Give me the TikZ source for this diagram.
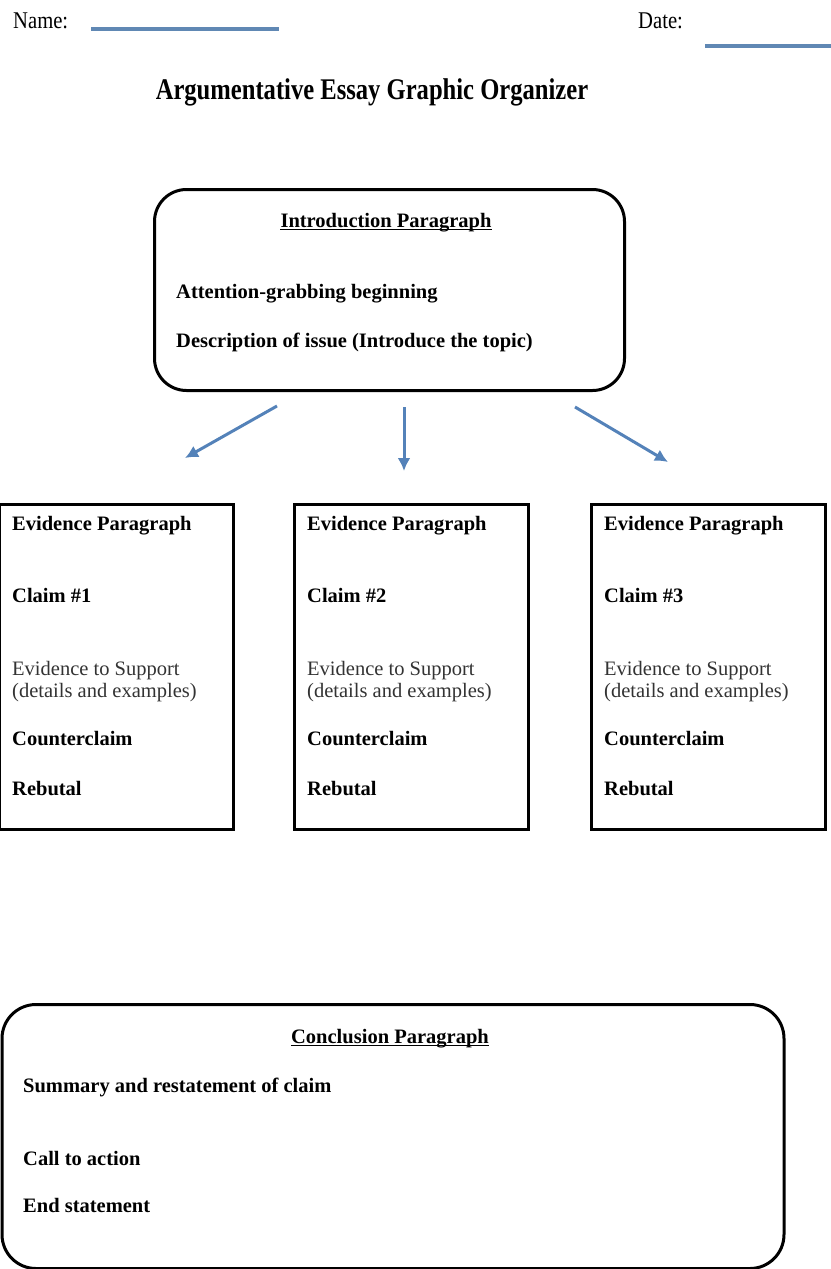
\documentclass[tikz,border=0pt]{standalone}
\usepackage{fontspec}
\setmainfont{Liberation Serif}
\newfontfamily\headfont[FakeStretch=0.86]{Liberation Serif}
\newfontfamily\titlefont[FakeStretch=0.82]{Liberation Serif}
\usetikzlibrary{arrows.meta,calc}
\definecolor{lineblue}{RGB}{96,136,180}
\definecolor{arrowblue}{RGB}{84,130,185}

\begin{document}
\begin{tikzpicture}[x=1pt,y=1pt,yscale=-1,xscale=1,
  txt/.style={anchor=base west,inner sep=0pt,font=\fontsize{20.5}{24}\selectfont\bfseries},
  plaintxt/.style={anchor=base west,inner sep=0pt,font=\fontsize{20.5}{24}\selectfont,text=black!80},
  headtxt/.style={anchor=base,inner sep=0pt,font=\fontsize{20.5}{24}\selectfont\bfseries},
  roundbox/.style={draw,line width=3,rounded corners=32,anchor=north west,inner sep=0pt},
  evbox/.style={draw,line width=3,anchor=north west,inner sep=0pt,minimum width=234,minimum height=325},
  bluearrow/.style={draw=arrowblue,line width=3,-{Latex[length=13,width=13]}},
  blank/.style={draw=lineblue,line width=4.5}]
\useasboundingbox (0,0) rectangle (830,1269);

%Header
\node[anchor=base west,inner sep=0pt,font=\fontsize{24}{28}\headfont] (name) at (13,28) {Name:};
\node[anchor=base west,inner sep=0pt,font=\fontsize{24}{28}\headfont] (date) at (638,28) {Date:};
\coordinate (name1) at (91,29);
\coordinate (name2) at (279,29);
\coordinate (date1) at (705,46);
\coordinate (date2) at (832,46);
\draw[blank] (name1) -- (name2);
\draw[blank] (date1) -- (date2);
\node[anchor=base,inner sep=0pt,font=\fontsize{30}{34}\titlefont\bfseries] (title) at (372,99) {Argumentative Essay Graphic Organizer};

%Shape: Introduction box
\node[roundbox,minimum width=470,minimum height=201] (intro) at (153,188) {};
% Text Node
\node[headtxt] (introhead) at (386,227) {Introduction Paragraph};
\draw[line width=1.2] ($(introhead.base west)+(0,2.5)$) -- ($(introhead.base east)+(0,2.5)$);
\node[txt] (attention) at (176,298) {Attention-grabbing beginning};
\node[txt] (issue) at (176,347) {Description of issue (Introduce the topic)};

%Arrows
\coordinate (a1s) at (277,406);
\coordinate (a1e) at (185,458);
\coordinate (a2s) at (404,407);
\coordinate (a2e) at (404,471);
\coordinate (a3s) at (575,407);
\coordinate (a3e) at (668,462);
\draw[bluearrow] (a1s) -- (a1e);
\draw[bluearrow] (a2s) -- (a2e);
\draw[bluearrow] (a3s) -- (a3e);

%Shape: Evidence boxes
\foreach \i/\x in {1/-2,2/293,3/590}{
  \node[evbox] (ev\i) at (\x,503) {};
  \node[txt] (evhead\i) at (\x+14,530) {Evidence Paragraph};
  \node[txt] (claim\i) at (\x+14,602) {Claim \#\i};
  \node[plaintxt] (support\i) at (\x+14,675) {Evidence to Support};
  \node[plaintxt] (details\i) at (\x+14,697) {(details and examples)};
  \node[txt] (counter\i) at (\x+14,745) {Counterclaim};
  \node[txt] (rebut\i) at (\x+14,795) {Rebutal};
}

%Shape: Conclusion box
\node[roundbox,rounded corners=34,minimum width=782,minimum height=264] (concl) at (0.5,1003) {};
% Text Node
\node[headtxt] (conclhead) at (390,1043) {Conclusion Paragraph};
\draw[line width=1.2] ($(conclhead.base west)+(0,2.5)$) -- ($(conclhead.base east)+(0,2.5)$);
\node[txt] (summary) at (23,1092) {Summary and restatement of claim};
\node[txt] (action) at (23,1165) {Call to action};
\node[txt] (endst) at (23,1212) {End statement};

\end{tikzpicture}
\end{document}
